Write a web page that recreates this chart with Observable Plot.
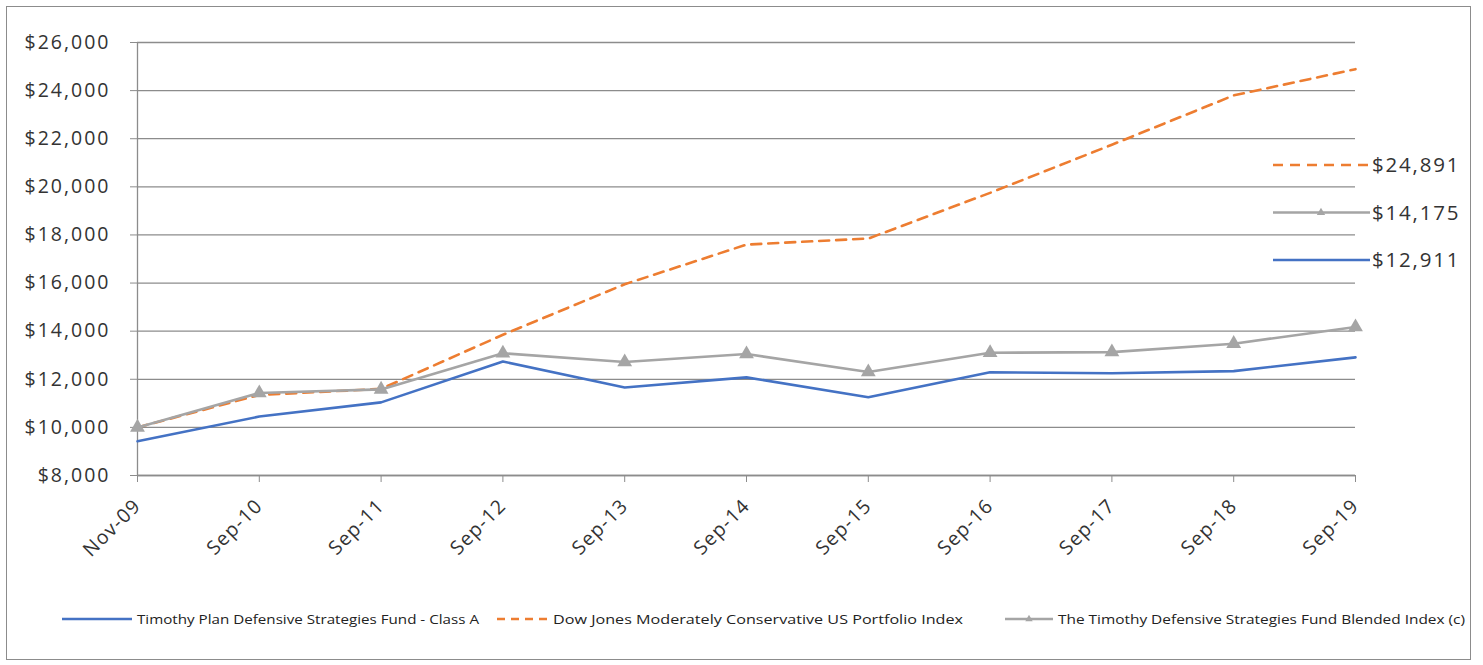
<!DOCTYPE html>
<html>
<head>
<meta charset="utf-8">
<script src="https://cdn.jsdelivr.net/npm/d3@7"></script>
<script src="https://cdn.jsdelivr.net/npm/@observablehq/plot@0.6"></script>
<style>
  html, body { margin: 0; padding: 0; background: #fff; }
  body { width: 1483px; height: 665px; position: relative; overflow: hidden; font-family: "Open Sans", sans-serif; }
  #frame { position: absolute; left: 6px; top: 6px; width: 1465px; height: 654px; border: 1.5px solid #8c8c8c; box-sizing: border-box; }
  #chart { position: absolute; left: 0; top: 0; }
  #endlabels { position: absolute; left: 0; top: 0; }
  #legend { position: absolute; left: 0; top: 600px; }
  #chart g[aria-label="y-axis tick label"] text { letter-spacing: 2px; }
  #chart g.xlab text { letter-spacing: 1.2px; }
</style>
</head>
<body>
<div id="frame"></div>
<div id="chart"></div>
<svg id="endlabels" width="1483" height="300"></svg>
<svg id="legend" width="1483" height="40"></svg>
<script>
const dates = ["Nov-09","Sep-10","Sep-11","Sep-12","Sep-13","Sep-14","Sep-15","Sep-16","Sep-17","Sep-18","Sep-19"];
const fundClassA = [9420, 10450, 11040, 12740, 11660, 12080, 11250, 12290, 12250, 12340, 12911];
const dowJones   = [10000, 11350, 11600, 13850, 15950, 17600, 17850, 19750, 21750, 23800, 24891];
const blended    = [10000, 11430, 11580, 13080, 12720, 13050, 12300, 13100, 13130, 13480, 14175];
const yTicks = [8000,10000,12000,14000,16000,18000,20000,22000,24000,26000];
const seriesNames = [
  "Timothy Plan Defensive Strategies Fund - Class A",
  "Dow Jones Moderately Conservative US Portfolio Index",
  "The Timothy Defensive Strategies Fund Blended Index (c)"
];
const colors = {blue: "#4472C4", orange: "#ED7D31", gray: "#A5A5A5"};

const rows = (vals) => dates.map((d, i) => ({date: d, value: vals[i]}));
const fmt = d => "$" + d3.format(",")(d);

const plot = Plot.plot({
  width: 1483,
  height: 595,
  marginLeft: 137,
  marginRight: 128,
  marginTop: 42,
  marginBottom: 120,
  style: {fontFamily: "'Open Sans', sans-serif", background: "transparent"},
  x: {type: "point", domain: dates, padding: 0, round: false},
  y: {domain: [8000, 26000]},
  marks: [
    Plot.gridY(yTicks, {stroke: "#8c8c8c", strokeOpacity: 1, strokeWidth: 1.3}),
    Plot.axisY(yTicks, {tickSize: 7, tickPadding: 20, tickFormat: fmt, stroke: "#8c8c8c", fill: "#333", fontSize: 19.5, label: null}),
    Plot.ruleX([dates[0]], {stroke: "#8c8c8c", strokeWidth: 1.3}),
    Plot.ruleY([8000], {stroke: "#8c8c8c", strokeWidth: 1.3}),
    Plot.axisX({tickSize: 7, text: null, stroke: "#8c8c8c", label: null}),
    Plot.text(dates, {x: d => d, frameAnchor: "bottom", dy: 27, dx: 0, rotate: -45, textAnchor: "end", lineAnchor: "middle", fontSize: 19.5, fill: "#333", className: "xlab"}),
    Plot.line(rows(fundClassA), {x: "date", y: "value", stroke: colors.blue, strokeWidth: 2.6}),
    Plot.line(rows(dowJones), {x: "date", y: "value", stroke: colors.orange, strokeWidth: 2.6, strokeDasharray: "10,7"}),
    Plot.line(rows(blended), {x: "date", y: "value", stroke: colors.gray, strokeWidth: 2.6}),
    Plot.dot(rows(blended), {x: "date", y: "value", symbol: "triangle", fill: colors.gray, r: 5.5})
  ]
});
document.getElementById("chart").appendChild(plot);

// End-value labels (right side)
const ends = [
  {v: dowJones[dowJones.length-1], color: colors.orange, dash: "10,7", marker: false},
  {v: blended[blended.length-1], color: colors.gray, dash: null, marker: true},
  {v: fundClassA[fundClassA.length-1], color: colors.blue, dash: null, marker: false}
];
const el = d3.select("#endlabels");
ends.forEach((e, i) => {
  const y = 165 + i * 47.5;
  el.append("line").attr("x1", 1273).attr("x2", 1370).attr("y1", y).attr("y2", y)
    .attr("stroke", e.color).attr("stroke-width", 2.6).attr("stroke-dasharray", e.dash);
  if (e.marker) el.append("path").attr("d", d3.symbol(d3.symbolTriangle, 30)()).attr("transform", `translate(1321,${y})`).attr("fill", e.color);
  el.append("text").attr("x", 1372).attr("y", y).attr("dy", "0.36em").attr("font-size", 20.5)
    .attr("fill", "#333").style("letter-spacing", "1.8px").text(fmt(e.v));
});

// Bottom legend
const lg = d3.select("#legend");
const items = [
  {x1: 62, x2: 132, tx: 137, tw: 342, color: colors.blue, dash: null, marker: false},
  {x1: 497, x2: 547, tx: 553, tw: 410, color: colors.orange, dash: "8,6", marker: false},
  {x1: 1005, x2: 1053, tx: 1058, tw: 407, color: colors.gray, dash: null, marker: true}
];
const ly = 19;
items.forEach((it, i) => {
  lg.append("line").attr("x1", it.x1).attr("x2", it.x2).attr("y1", ly).attr("y2", ly)
    .attr("stroke", it.color).attr("stroke-width", 2.6).attr("stroke-dasharray", it.dash);
  if (it.marker) lg.append("path").attr("d", d3.symbol(d3.symbolTriangle, 24)()).attr("transform", `translate(${(it.x1+it.x2)/2},${ly})`).attr("fill", it.color);
  lg.append("text").attr("x", it.tx).attr("y", ly).attr("dy", "0.36em").attr("font-size", 12.5)
    .attr("fill", "#222").attr("textLength", it.tw).attr("lengthAdjust", "spacingAndGlyphs")
    .text(seriesNames[i]);
});
</script>
</body>
</html>
